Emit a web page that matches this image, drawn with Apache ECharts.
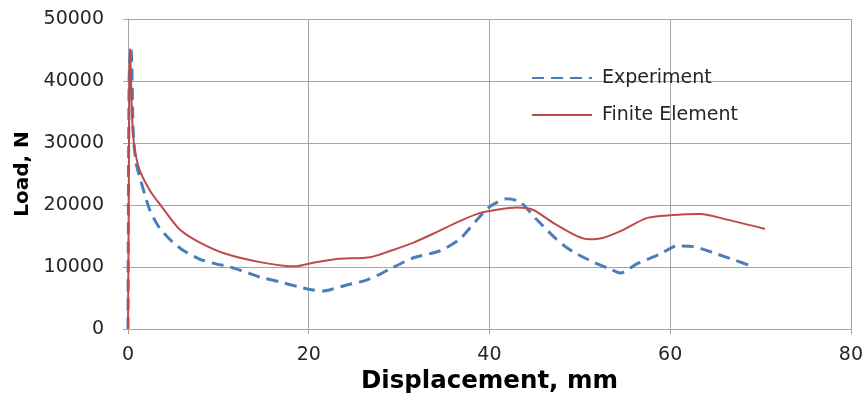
<!DOCTYPE html>
<html>
<head>
<meta charset="utf-8">
<script src="https://cdn.jsdelivr.net/npm/echarts@6/dist/echarts.min.js"></script>
<style>
  html, body { margin: 0; padding: 0; background: #fff; }
  #chart { width: 866px; height: 399px; }
</style>
</head>
<body>
<div id="chart"></div>
<script>
// Load–displacement curves: measured vs. finite element model
const experimentX = [0, 0.12, 0.3, 0.42, 0.5, 0.6, 0.9, 1.3, 2.4, 3.4, 4.6, 6, 7.9, 9.5, 11.3, 13, 14.6, 16.8, 18.9, 20.5, 21.6, 22.5, 24.2, 26.4, 27.8, 29.0, 31.6, 34.5, 36.7, 38.6, 40.1, 41.9, 43.4, 45.2, 47.4, 48.5, 49.7, 51.5, 53.5, 54.5, 56.3, 58.9, 60.7, 62.6, 65.2, 67, 69.1];
const experimentY = [0, 40000, 45500, 43000, 36000, 31000, 26800, 24500, 19250, 16500, 14500, 12800, 11300, 10600, 10000, 9200, 8400, 7600, 6800, 6300, 6150, 6400, 7100, 7900, 8800, 9700, 11500, 12600, 14500, 17600, 19800, 21000, 20500, 17700, 14500, 13200, 12100, 10800, 9600, 9050, 10500, 12100, 13400, 13300, 12100, 11200, 10100];

const feX = [0, 0.08, 0.15, 0.22, 0.3, 0.4, 0.55, 0.8, 1.3, 2.4, 3.7, 5.7, 7.9, 10.9, 14.6, 17.9, 18.6, 20.5, 23.1, 26.8, 29.0, 31.6, 34.1, 36.7, 38.9, 40.8, 43.0, 44.8, 47.1, 49.7, 51.1, 52.5, 54.5, 57.4, 60.0, 63.3, 66.3, 70.5];
const feY = [0, 20000, 40000, 45200, 42500, 36500, 31500, 28500, 25600, 22400, 19800, 16100, 14000, 12100, 10800, 10150, 10140, 10700, 11300, 11600, 12600, 13950, 15600, 17400, 18700, 19250, 19600, 19250, 17100, 15000, 14500, 14700, 15800, 17900, 18350, 18550, 17650, 16150];

const seriesNames = ['Experiment', 'Finite Element'];
const xTitle = 'Displacement, mm';
const yTitle = 'Load, N';

const pairs = (xs, ys) => xs.map((x, i) => [x, ys[i]]);

const gridColor = '#a6a6a6';
const textColor = '#262626';

const chart = echarts.init(document.getElementById('chart'));
chart.setOption({
  animation: false,
  backgroundColor: '#ffffff',
  grid: { left: 128, right: 15, top: 19, bottom: 64, containLabel: false },
  legend: {
    orient: 'vertical',
    left: 531,
    top: 68,
    padding: 0,
    itemWidth: 60,
    itemHeight: 14,
    itemGap: 17,
    itemStyle: { opacity: 0 },
    textStyle: {
      fontFamily: 'DejaVu Sans',
      fontSize: 19,
      lineHeight: 20,
      color: textColor,
      padding: [0, 0, 0, 5]
    },
    data: seriesNames
  },
  xAxis: {
    type: 'value',
    min: 0,
    max: 80,
    interval: 20,
    name: xTitle,
    nameLocation: 'middle',
    nameGap: 36,
    nameTextStyle: { fontFamily: 'DejaVu Sans', fontWeight: 'bold', fontSize: 24.5, color: '#000' },
    axisLine: { show: true, lineStyle: { color: gridColor, width: 1 } },
    axisTick: { show: true, length: 5, lineStyle: { color: gridColor } },
    axisLabel: { margin: 16, fontFamily: 'DejaVu Sans', fontSize: 19, color: textColor },
    splitLine: { show: true, lineStyle: { color: gridColor, width: 1 } }
  },
  yAxis: {
    type: 'value',
    min: 0,
    max: 50000,
    interval: 10000,
    name: yTitle,
    nameLocation: 'middle',
    nameGap: 90,
    nameTextStyle: { fontFamily: 'DejaVu Sans', fontWeight: 'bold', fontSize: 20, color: '#000' },
    axisLine: { show: true, lineStyle: { color: gridColor, width: 1 } },
    axisTick: { show: true, length: 5, lineStyle: { color: gridColor } },
    axisLabel: {
      margin: 24,
      fontFamily: 'DejaVu Sans',
      fontSize: 19,
      color: textColor,
      formatter: (v) => String(v)
    },
    splitLine: { show: true, lineStyle: { color: gridColor, width: 1 } }
  },
  series: [
    {
      name: seriesNames[0],
      type: 'line',
      data: pairs(experimentX, experimentY),
      showSymbol: false,
      symbol: 'none',
      smooth: 0.25,
      lineStyle: { color: '#4a7ebb', width: 3, type: [12, 7] },
      itemStyle: { color: '#4a7ebb' },
      z: 2
    },
    {
      name: seriesNames[1],
      type: 'line',
      data: pairs(feX, feY),
      showSymbol: false,
      symbol: 'none',
      smooth: 0.25,
      lineStyle: { color: '#be4b48', width: 2 },
      itemStyle: { color: '#be4b48' },
      z: 3
    }
  ]
});
</script>
</body>
</html>
